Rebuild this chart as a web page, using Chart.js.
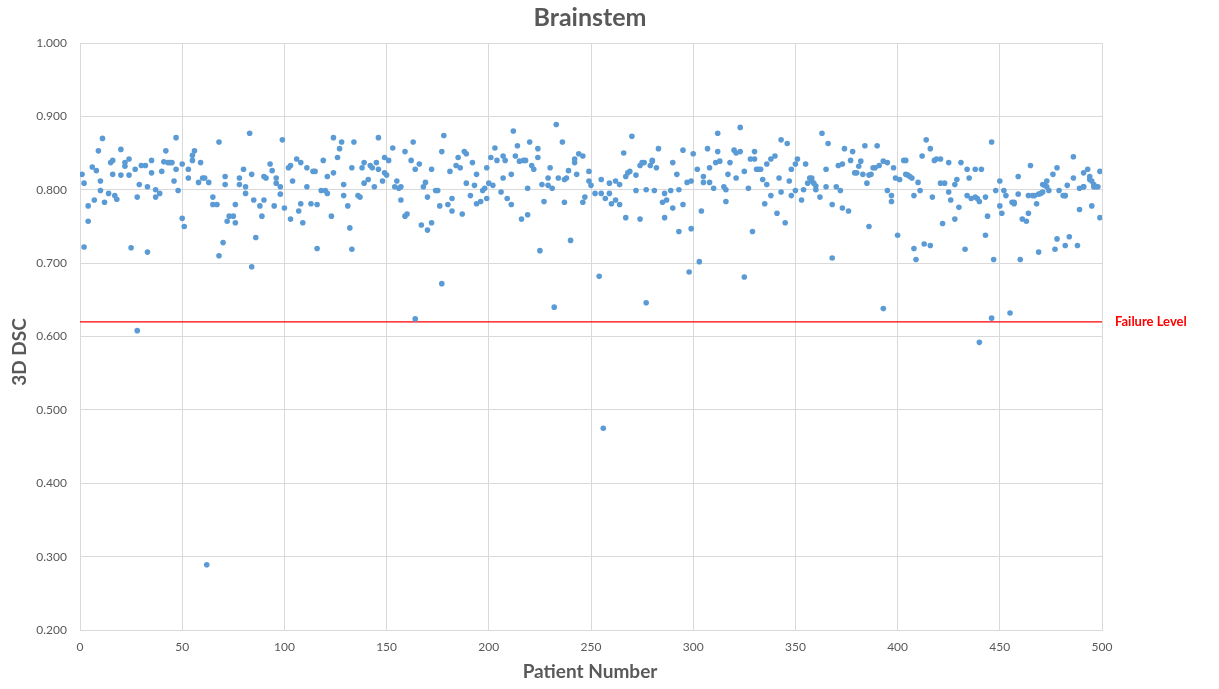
<!DOCTYPE html>
<html>
<head>
<meta charset="utf-8">
<title>Brainstem</title>
<script src="https://cdn.jsdelivr.net/npm/chart.js@4.4.0/dist/chart.umd.min.js"></script>
<style>
  html, body { margin: 0; padding: 0; background: #ffffff; }
  #dscChart { display: block; }
</style>
</head>
<body>
<canvas id="dscChart" width="1219" height="689"></canvas>
<script>
// ---------------------------
// Data: patient number -> 3D DSC
// ---------------------------
const patientNo = [
  1,2,2,4,4,6,7,8,9,10, 10,11,12,14,15,16,16,17,18,20,
  20,22,22,24,24,25,27,28,28,29, 30,32,33,33,35,35,37,37,39,40,
  41,42,43,44,45,46,47,47,48,50, 50,51,
  53,53,55,55,56,58,59,60,61,62, 63,65,65,67,68,68,70,71,71,72,
  73,75,76,76,78,78,80,81,81,83, 84,84,85,86,88,89,90,90,91,93,
  94,95,96,96,98,98,99,100,
  102,103,103,104,106,107,108,108,109,111, 111,113,114,115,116,116,118,119,120,121,
  121,123,124,124,126,127,128,129,129,131, 132,133,133,134,136,137,138,139,139,141,
  142,143,144,145,146,146,148,149,149,150, 151,
  153,154,155,156,157,157,159,159,160,162, 163,164,164,166,167,168,169,170,170,172,
  172,174,175,176,177,177,178,180,181,182, 182,184,185,186,187,188,189,189,191,192,
  193,194,194,196,197,198,199,199,200,201,
  202,203,204,206,207,207,208,209,211,211, 212,213,214,215,216,217,218,219,219,220,
  221,222,224,224,225,226,227,229,229,230, 231,232,233,234,236,237,237,238,239,240,
  242,242,243,244,246,246,247,249,249,250,
  252,254,255,255,256,257,259,259,260,262, 262,264,264,266,267,267,268,269,270,272,
  272,274,274,275,276,277,277,279,280,280, 281,282,283,285,286,286,287,289,290,290,
  292,293,293,295,295,297,298,299,299,300,
  302,303,304,305,305,307,308,308,310,311, 312,312,313,315,316,316,317,318,320,321,
  321,323,323,325,325,327,328,329,330,330, 331,332,333,334,335,336,336,338,338,340,
  341,342,343,343,345,346,347,348,348,350, 350,
  351,353,354,355,356,357,358,358,359,360, 360,362,363,365,365,366,368,368,370,371,
  372,373,373,374,376,377,378,379,380,381, 382,383,384,385,386,386,387,388,389,390,
  391,393,393,395,395,397,397,398,399,400,
  401,403,404,404,405,406,407,408,408,409, 410,411,412,413,414,416,416,417,418,419,
  421,421,422,423,425,425,426,428,428,429, 430,431,433,434,434,435,436,438,438,439,
  440,440,441,443,443,444,446,446,447,448, 450,450,
  451,452,453,455,456,457,457,459,459,460, 461,463,464,464,465,466,467,468,469,469,
  470,471,471,472,473,473,474,476,477,478, 478,479,481,482,482,482,483,484,486,486,
  488,489,489,491,491,491,493,494,494,495, 495,496,496,497,498,499,499
];

const dsc = [
  .821,.722,.809,.778,.757,.831,.786,.826,.853,.812, .799,.870,.783,.795,.837,.840,.821,.792,.787,.855,
  .820,.837,.832,.820,.842,.721,.828,.790,.608,.807, .833,.833,.804,.715,.840,.823,.790,.800,.795,.825,
  .838,.853,.837,.837,.837,.812,.871,.828,.799,.761, .835,.750,
  .816,.828,.840,.847,.853,.810,.837,.816,.816,.289, .810,.790,.780,.780,.710,.865,.728,.807,.818,.757,
  .764,.764,.755,.780,.807,.816,.828,.804,.795,.877, .695,.821,.786,.735,.778,.764,.818,.786,.816,.835,
  .826,.778,.816,.809,.804,.794,.868,.775,
  .830,.760,.833,.812,.842,.771,.781,.837,.755,.830, .804,.781,.825,.825,.720,.780,.799,.840,.799,.818,
  .795,.764,.871,.823,.844,.856,.865,.807,.792,.778, .748,.719,.830,.865,.792,.790,.830,.837,.809,.814,
  .833,.830,.804,.837,.828,.871,.812,.844,.823,.820, .840,
  .857,.804,.812,.802,.804,.786,.764,.852,.767,.840, .865,.828,.624,.835,.752,.804,.810,.790,.745,.755,
  .828,.799,.799,.778,.672,.852,.874,.780,.825,.788, .771,.833,.844,.830,.767,.852,.809,.849,.792,.837,
  .806,.821,.781,.784,.799,.802,.830,.788,.809,.844,
  .806,.857,.840,.797,.816,.846,.840,.788,.780,.821, .880,.846,.860,.839,.760,.840,.840,.766,.802,.865,
  .833,.828,.856,.844,.717,.807,.784,.806,.816,.830, .802,.640,.889,.816,.865,.814,.783,.816,.826,.731,
  .837,.842,.821,.849,.783,.846,.790,.812,.825,.806,
  .795,.682,.814,.795,.475,.788,.809,.795,.781,.812, .786,.780,.807,.850,.762,.818,.823,.825,.873,.799,
  .820,.833,.760,.837,.837,.800,.646,.833,.839,.840, .799,.830,.856,.783,.795,.762,.786,.799,.775,.837,
  .821,.743,.800,.780,.854,.810,.688,.812,.747,.849,
  .828,.702,.771,.818,.810,.856,.830,.810,.802,.837, .877,.852,.839,.804,.800,.784,.821,.837,.854,.816,
  .850,.885,.852,.681,.825,.802,.842,.743,.852,.842, .828,.828,.828,.814,.781,.835,.807,.842,.792,.846,
  .768,.816,.797,.868,.755,.863,.812,.792,.828,.799, .835,
  .842,.786,.800,.835,.809,.816,.816,.812,.809,.805, .800,.790,.877,.828,.804,.863,.707,.780,.804,.833,
  .799,.835,.775,.856,.771,.840,.852,.823,.823,.832, .839,.821,.860,.809,.750,.820,.821,.830,.830,.860,
  .833,.638,.839,.799,.837,.784,.792,.830,.816,.738,
  .814,.840,.840,.821,.820,.818,.816,.792,.720,.705, .810,.799,.846,.726,.868,.724,.856,.790,.840,.842,
  .842,.809,.754,.809,.797,.837,.786,.807,.760,.814, .776,.837,.719,.828,.792,.816,.788,.790,.828,.788,
  .784,.592,.828,.738,.790,.764,.865,.625,.705,.799, .778,.812,
  .768,.799,.792,.632,.783,.781,.783,.794,.818,.705, .760,.757,.768,.792,.833,.792,.792,.781,.794,.715,
  .795,.797,.807,.806,.812,.804,.799,.821,.719,.830, .733,.799,.792,.792,.724,.792,.806,.736,.816,.845,
  .724,.773,.802,.804,.804,.823,.828,.818,.814,.812, .778,.807,.804,.804,.804,.825,.762
];

const failureLevel = 0.62;
const xRange = [0, 500];
const yRange = [0.2, 1.0];

const textGrey = '#595959';
const gridGrey = '#d9d9d9';
const fontFamily = 'Lato, "Open Sans", sans-serif';

// ---------------------------
// Titles and the "Failure Level" label, drawn on top of the chart
// ---------------------------
const chartText = {
  id: 'chartText',
  afterDraw(chart) {
    const { ctx, chartArea, scales } = chart;
    ctx.save();
    ctx.textBaseline = 'middle';

    // main title
    ctx.fillStyle = textGrey;
    ctx.textAlign = 'center';
    ctx.font = 'bold 25px ' + fontFamily;
    ctx.fillText('Brainstem', 590, 18);

    // x axis title
    ctx.font = 'bold 19px ' + fontFamily;
    ctx.fillText('Patient Number', 590, 672);

    // y axis title (rotated)
    ctx.save();
    ctx.translate(20, 352);
    ctx.rotate(-Math.PI / 2);
    ctx.fillText('3D DSC', 0, 0);
    ctx.restore();

    // failure label
    const y = scales.y.getPixelForValue(failureLevel);
    ctx.font = 'bold 13px ' + fontFamily;
    ctx.fillStyle = '#ff0000';
    ctx.textAlign = 'left';
    ctx.fillText('Failure Level', chartArea.right + 13, y);
    ctx.restore();
  }
};

const points = patientNo.map((p, i) => ({ x: p, y: dsc[i] }));

const ctx = document.getElementById('dscChart').getContext('2d');
const dscChart = new Chart(ctx, {
  type: 'scatter',
  data: {
    datasets: [
      {
        label: 'Failure Level',
        type: 'line',
        data: [{ x: xRange[0], y: failureLevel }, { x: xRange[1], y: failureLevel }],
        borderColor: '#ff0000',
        borderWidth: 1.3,
        pointRadius: 0,
        fill: false,
        order: 2
      },
      {
        label: '3D DSC',
        data: points,
        backgroundColor: '#5b9bd5',
        borderWidth: 0,
        pointRadius: 2.8,
        order: 1
      }
    ]
  },
  options: {
    responsive: false,
    animation: false,
    layout: { padding: { left: 0, right: 117, top: 43, bottom: 0 } },
    plugins: {
      legend: { display: false },
      tooltip: { enabled: false },
      title: { display: false }
    },
    scales: {
      x: {
        type: 'linear',
        min: xRange[0],
        max: xRange[1],
        grid: { color: gridGrey, lineWidth: 1, drawTicks: false },
        border: { color: gridGrey },
        ticks: {
          stepSize: 50,
          padding: 10,
          color: textGrey,
          font: { family: fontFamily, size: 12 }
        },
        afterFit(scale) { scale.height = 59; }
      },
      y: {
        min: yRange[0],
        max: yRange[1],
        grid: { color: gridGrey, lineWidth: 1, drawTicks: false },
        border: { color: gridGrey },
        ticks: {
          stepSize: 0.1,
          padding: 13,
          color: textGrey,
          font: { family: fontFamily, size: 12 },
          callback: v => v.toFixed(3)
        },
        afterFit(scale) { scale.width = 80; }
      }
    }
  },
  plugins: [chartText]
});
</script>
</body>
</html>
